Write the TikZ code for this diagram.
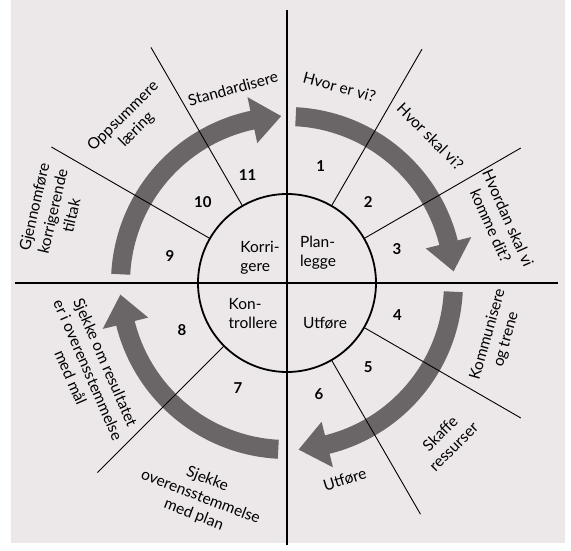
\documentclass[tikz,border=0pt]{standalone}
\usepackage{fontspec}
\setmainfont{Lato}
\definecolor{paper}{RGB}{236,231,232}
\definecolor{arrowgray}{RGB}{106,102,104}

\begin{document}
\begin{tikzpicture}[x=1pt, y=1pt, every node/.style={font=\fontsize{15.5}{19}\selectfont, inner sep=1pt}, lbl/.style={align=center}, num/.style={font=\fontsize{15}{18}\selectfont\bfseries}, axis/.style={line width=1.8pt}, spoke/.style={line width=0.9pt}, cyc/.style={fill=arrowgray}]
	\useasboundingbox (-287,-268) rectangle (284,283);
	\fill[white] (-287,-268) rectangle (284,283);
	\fill[paper] (-276,-260) rectangle (278,283);
	\fill[cyc] (87:176) arc[start angle=87, end angle=14, radius=176] -- (14:190) -- (4:167) -- (14:143) -- (14:157) arc[start angle=14, end angle=87, radius=157] -- cycle;
	\fill[cyc] (-3:176) arc[start angle=-3, end angle=-76, radius=176] -- (-76:190) -- (-86:167) -- (-76:143) -- (-76:157) arc[start angle=-76, end angle=-3, radius=157] -- cycle;
	\fill[cyc] (267:176) arc[start angle=267, end angle=194, radius=176] -- (194:190) -- (184:167) -- (194:143) -- (194:157) arc[start angle=194, end angle=267, radius=157] -- cycle;
	\fill[cyc] (177:176) arc[start angle=177, end angle=102, radius=176] -- (102:190) -- (92:167) -- (102:143) -- (102:157) arc[start angle=102, end angle=177, radius=157] -- cycle;
	\draw[axis] (0,-262) -- (0,273);
	\draw[axis] (-272,0) -- (271,0);
	\node[circle, draw, line width=1.8pt, minimum size=178, inner sep=0pt, outer sep=0pt] (core) at (0,0) {};
	\draw[spoke] (core.60) -- (60:270);
	\draw[spoke] (core.30) -- (30:270);
	\draw[spoke] (core.-30) -- (-30:270);
	\draw[spoke] (core.-60) -- (-60:267);
	\draw[spoke] (core.225) -- (225:268);
	\draw[spoke] (core.150) -- (150:272);
	\draw[spoke] (core.120) -- (120:272);
	\node[lbl, align=left] (korr) at (-27,25) {Korri-\\gere};
	\node[lbl, align=left] (plan) at (31,30) {Plan-\\legge};
	\node[lbl, align=left] (kont) at (-34,-31) {Kon-\\trollere};
	\node[lbl] (utf) at (38,-40) {Utføre};
	\node[num] (n1) at (74:122) {1};
	\node[num] (n2) at (45:115) {2};
	\node[num] (n3) at (17:115) {3};
	\node[num] (n4) at (-16:115) {4};
	\node[num] (n5) at (-46:117) {5};
	\node[num] (n6) at (-74:116) {6};
	\node[num] (n7) at (245:116) {7};
	\node[num] (n8) at (204:115) {8};
	\node[num] (n9) at (167:120) {9};
	\node[num] (n10) at (136:117) {10};
	\node[num] (n11) at (110:115) {11};
	\node[lbl, rotate=-15] (l1) at (75:203) {Hvor er vi?};
	\node[lbl, rotate=-45] (l2) at (45.6:205) {Hvor skal vi?};
	\node[lbl, rotate=-66] (l3) at (16:221) {Hvordan skal vi\\komme dit?};
	\node[lbl, rotate=74] (l4) at (-14.4:217) {Kommunisere\\og trene};
	\node[lbl, rotate=45] (l5) at (-44.5:224) {Skaffe\\ressurser};
	\node[lbl, rotate=17] (l6) at (-73.6:205) {Utføre};
	\node[lbl, rotate=-21] (l7) at (248:231) {Sjekke\\overensstemmelse\\med plan};
	\node[lbl, rotate=-66.5] (l8) at (203.6:217) {Sjekke om resultatet\\er i overensstemmelse\\med mål};
	\node[lbl, rotate=77] (l9) at (163:245) {Gjennomføre\\korrigerende\\tiltak};
	\node[lbl, rotate=44.5] (l10) at (134.5:224) {Oppsummere\\læring};
	\node[lbl, rotate=15.5] (l11) at (105.5:202) {Standardisere};
\end{tikzpicture}
\end{document}
